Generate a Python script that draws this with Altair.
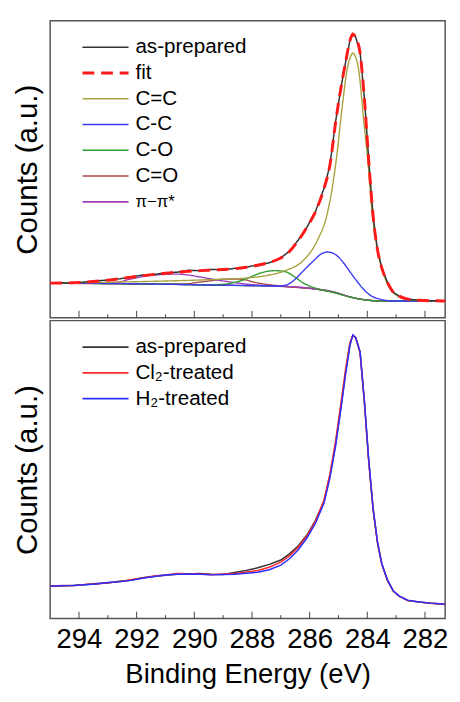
import altair as alt
import pandas as pd

FONT = "Liberation Sans"

# ---------------- data ----------------
E_RAW = [295.0, 294.6, 294.2, 293.8, 293.4, 293.0, 292.6, 292.2, 291.8, 291.4, 291.0,
         290.6, 290.2, 289.8, 289.4, 289.0, 288.6, 288.2, 287.8, 287.4, 287.0,
         286.7, 286.4, 286.1, 285.8, 285.5, 285.3, 285.1, 284.9, 284.75, 284.6,
         284.5, 284.4, 284.25, 284.1, 283.95, 283.8, 283.65, 283.5, 283.3, 283.1,
         282.9, 282.6, 282.2, 281.8, 281.4, 281.3]

TOP_ASPREP = [35.3, 35.6, 35.1, 36.4, 37.4, 38.6, 39.6, 41.6, 43.5, 44.0, 45.8,
              46.4, 48.4, 47.9, 49.3, 48.6, 50.4, 51.5, 53.9, 56.0, 60.8,
              68, 79, 92, 108, 132, 155, 200, 237, 261, 283,
              289.7, 286, 271, 224, 161, 104, 70, 51, 36, 26,
              22, 19, 17.8, 17.3, 17.1, 17.0]

TOP_FIT = [35.3, 35.4, 35.7, 36.3, 37.2, 38.3, 39.7, 41.3, 42.9, 44.2, 45.3,
           46.4, 47.3, 48.0, 48.6, 49.2, 50.0, 51.4, 53.5, 56.4, 60.8,
           67.5, 78.5, 92, 108, 132, 155, 199, 237, 261, 283,
           289.5, 285.5, 270, 223, 160, 104, 70, 51, 36, 26,
           22, 19, 17.8, 17.3, 17.1, 17.0]

BG_E = [295.0, 293.0, 291.6, 289.3, 287.1, 286.2, 285.7, 285.15, 284.58, 284.03, 283.45, 282.5, 281.3]
BG_V = [35.3, 35.0, 34.3, 33.3, 32.0, 30.5, 29.0, 26.0, 21.0, 18.0, 17.0, 17.0, 17.0]

CEQC_E = [295.0, 293.3, 291.6, 289.3, 288.2, 287.5, 286.85, 286.2, 285.73, 285.39, 285.15,
          285.04, 284.87, 284.7, 284.6, 284.5, 284.4, 284.3, 284.13, 283.96, 283.86,
          283.69, 283.45, 283.11, 282.67, 282.09, 281.3]
CEQC_V = [35.3, 36.0, 37.0, 39.0, 40.5, 43.0, 48.0, 59.0, 79.0, 106.0, 145.0,
          170.0, 215.0, 253.0, 265.0, 270.0, 265.5, 253.0, 203.0, 153.0, 116.0,
          76.0, 46.0, 26.0, 19.0, 17.5, 17.0]

CC_E = [295.0, 292.0, 289.3, 287.6, 287.1, 286.85, 286.51, 286.28, 285.83, 285.6, 285.39,
        285.2, 285.04, 284.8, 284.58, 284.3, 284.13, 283.85, 283.56, 283.11, 281.3]
CC_V = [35.3, 34.6, 33.3, 32.6, 32.3, 33.0, 39.0, 46.0, 59.0, 65.0, 67.0,
        66.0, 63.0, 55.0, 46.0, 35.0, 29.0, 22.0, 19.0, 17.0, 17.0]

CO_E = [295.0, 291.0, 289.5, 288.9, 288.65, 288.3, 287.97, 287.6, 287.2, 286.85, 286.51,
        286.28, 285.73, 285.15, 284.58, 284.03, 283.45, 281.3]
CO_V = [35.3, 34.2, 33.6, 34.3, 35.8, 38.5, 42.5, 46.5, 48.0, 47.0, 41.5,
        36.5, 29.5, 25.5, 21.0, 18.0, 17.0, 17.0]

CEQO_E = [295.0, 291.0, 290.3, 289.9, 289.3, 288.99, 288.55, 288.2, 287.97, 287.6, 287.29,
          286.51, 285.73, 285.15, 284.58, 284.03, 283.45, 281.3]
CEQO_V = [35.3, 34.3, 34.5, 36.0, 38.2, 39.3, 39.5, 38.5, 36.5, 34.5, 33.3,
          31.0, 29.0, 26.0, 21.0, 18.0, 17.0, 17.0]

PI_E = [295.0, 293.3, 292.72, 292.2, 291.6, 291.0, 290.6, 290.2, 289.9, 289.5, 289.1,
        288.6, 288.2, 287.6, 287.0, 286.51, 285.73, 285.15, 284.58, 284.03, 283.45, 281.3]
PI_V = [35.3, 35.5, 36.0, 39.5, 42.8, 44.2, 44.5, 43.5, 42.0, 40.0, 38.0,
        35.8, 34.3, 33.0, 32.0, 31.5, 29.0, 26.0, 21.0, 18.0, 17.0, 17.0]

BOT_ASPREP = [33.0, 33.5, 33.9, 34.5, 35.8, 36.3, 38.0, 39.2, 41.7, 43.0, 44.3,
              45.2, 45.4, 45.9, 45.2, 45.0, 47.0, 49.2, 51.8, 55.3, 59.8,
              66, 74, 85, 100, 120, 145, 178, 219, 252, 280,
              289, 286.5, 272, 221, 161, 112, 78, 56, 39, 28,
              23, 18.6, 16.9, 15.7, 14.9, 14.4]
BOT_CL2 = [33.3, 33.8, 33.4, 34.9, 35.4, 36.6, 37.7, 39.6, 41.4, 43.4, 44.6,
           45.9, 45.8, 45.6, 44.8, 45.5, 45.9, 47.6, 49.0, 52.4, 57.6,
           64, 72.5, 84, 99, 121, 147, 181, 223, 255, 282,
           289, 286, 271, 220, 160, 112, 78, 56, 39, 28,
           23, 18.5, 16.8, 15.6, 14.8, 14.4]
BOT_H2 = [33.1, 33.4, 33.7, 34.6, 35.2, 36.8, 37.5, 39.0, 41.2, 42.9, 44.4,
          45.3, 45.6, 45.2, 44.6, 45.1, 45.3, 46.2, 47.3, 49.8, 54.5,
          61, 70, 82, 97, 118, 143, 176, 217, 250, 279,
          289.5, 286.5, 272, 222, 162, 113, 79, 56.5, 39.5, 28.3,
          23.2, 18.7, 17.0, 15.8, 15.0, 14.5]

TOP_SERIES = ["as-prepared", "fit", "C=C", "C-C", "C-O", "C=O", "π−π*"]
TOP_COLORS = ["#333333", "#ff1a1a", "#a8a23c", "#3a3af0", "#2f9e2f", "#a84a4a", "#a040b8"]
TOP_DASHES = [[1, 0], [12, 7], [1, 0], [1, 0], [1, 0], [1, 0], [1, 0]]
BOT_SERIES = ["as-prepared", "Cl₂-treated", "H₂-treated"]
BOT_COLORS = ["#333333", "#ff2a2a", "#2e2eff"]

MAJOR_TICKS = [294, 292, 290, 288, 286, 284, 282]
MINOR_TICKS = [293, 291, 289, 287, 285, 283]

# ---------------- frames ----------------
def frame(E, V, name):
    return pd.DataFrame({"eV": E, "counts": V, "series": name})

df_bg = frame(BG_E, BG_V, "background")
df_comp = pd.concat([
    frame(CEQO_E, CEQO_V, "C=O"),
    frame(PI_E, PI_V, "π−π*"),
    frame(CO_E, CO_V, "C-O"),
    frame(CC_E, CC_V, "C-C"),
    frame(CEQC_E, CEQC_V, "C=C"),
])
df_raw = frame(E_RAW, TOP_ASPREP, "as-prepared")
df_fit = frame(E_RAW, TOP_FIT, "fit")
df_bot = pd.concat([
    frame(E_RAW, BOT_ASPREP, "as-prepared"),
    frame(E_RAW, BOT_CL2, "Cl₂-treated"),
    frame(E_RAW, BOT_H2, "H₂-treated"),
])
df_major = pd.DataFrame({"eV": MAJOR_TICKS})
df_minor = pd.DataFrame({"eV": MINOR_TICKS})
df_leg_top = pd.DataFrame({"series": TOP_SERIES, "idx": list(range(len(TOP_SERIES)))})
df_leg_bot = pd.DataFrame({"series": BOT_SERIES, "idx": list(range(len(BOT_SERIES)))})

W = 403
H_TOP = 303
H_BOT = 304

xs = alt.Scale(domain=[295, 281.3], nice=False, zero=False)

def y_enc(h):
    return alt.Y("counts:Q",
                 scale=alt.Scale(domain=[0, h], nice=False, zero=False),
                 axis=alt.Axis(title="Counts (a.u.)", labels=False, ticks=False,
                               domain=False, grid=False, titleFont=FONT,
                               titleFontSize=30, titleFontWeight="normal",
                               titleColor="black", titlePadding=8))

def legend_layers(df_leg, color, dash, n, step, width_cond):
    yoff = alt.YOffset("idx:Q", scale=alt.Scale(domain=[0, n - 1], range=[0, step * (n - 1)]))
    enc = dict(y=alt.value(27), yOffset=yoff)
    rules = alt.Chart(df_leg).mark_rule().encode(
        x=alt.value(33), x2=alt.value(80), color=color, strokeWidth=width_cond, **enc)
    if dash is not None:
        rules = rules.encode(strokeDash=dash)
    texts = alt.Chart(df_leg).mark_text(align="left", baseline="middle", font=FONT,
                                        color="black").encode(
        x=alt.value(87), text="series:N",
        size=alt.condition(alt.datum.series == "π−π*", alt.value(17), alt.value(21)),
        **enc)
    return rules, texts

# ---------------- top panel ----------------
x_top = alt.X("eV:Q", scale=xs, axis=None)
ytop = y_enc(H_TOP)
col_top = alt.Color("series:N", scale=alt.Scale(domain=TOP_SERIES, range=TOP_COLORS), legend=None)
dash_top = alt.StrokeDash("series:N", scale=alt.Scale(domain=TOP_SERIES, range=TOP_DASHES), legend=None)

bg_layer = alt.Chart(df_bg).mark_line(color="#333333", strokeWidth=1.4, interpolate="monotone").encode(
    x=x_top, y=ytop)
comp_layer = alt.Chart(df_comp).mark_line(strokeWidth=1.4, interpolate="monotone").encode(
    x=x_top, y=ytop, color=col_top, strokeDash=dash_top, detail="series:N")
raw_layer = alt.Chart(df_raw).mark_line(strokeWidth=1.5).encode(
    x=x_top, y=ytop, color=col_top, strokeDash=dash_top)
fit_layer = alt.Chart(df_fit).mark_line(strokeWidth=3, interpolate="monotone").encode(
    x=x_top, y=ytop, color=col_top, strokeDash=dash_top)
tmaj_top = alt.Chart(df_major).mark_rule(color="#444444", strokeWidth=1).encode(
    x=x_top, y=alt.value(H_TOP), y2=alt.value(H_TOP - 7))
tmin_top = alt.Chart(df_minor).mark_rule(color="#444444", strokeWidth=1).encode(
    x=x_top, y=alt.value(H_TOP), y2=alt.value(H_TOP - 3.5))
lr_top, lt_top = legend_layers(
    df_leg_top, col_top, dash_top, len(TOP_SERIES), 26.3,
    alt.condition(alt.datum.series == "fit", alt.value(3), alt.value(1.6)))

top = alt.layer(bg_layer, comp_layer, raw_layer, fit_layer, tmaj_top, tmin_top,
                lr_top, lt_top).properties(width=W, height=H_TOP)

# ---------------- bottom panel ----------------
x_bot = alt.X("eV:Q", scale=xs,
              axis=alt.Axis(title="Binding Energy (eV)", values=MAJOR_TICKS, format="d",
                            ticks=False, tickSize=0, domain=False, grid=False,
                            labelFont=FONT, labelFontSize=28, labelColor="black",
                            labelPadding=7, labelFlush=False, labelOverlap=False,
                            titleFont=FONT, titleFontSize=28, titleFontWeight="normal",
                            titleColor="black", titlePadding=8))
ybot = y_enc(H_BOT)
col_bot = alt.Color("series:N", scale=alt.Scale(domain=BOT_SERIES, range=BOT_COLORS), legend=None)

bot_lines = alt.Chart(df_bot).mark_line(strokeWidth=1.5).encode(
    x=x_bot, y=ybot, color=col_bot)
tmaj_bot = alt.Chart(df_major).mark_rule(color="#444444", strokeWidth=1).encode(
    x=x_bot, y=alt.value(H_BOT), y2=alt.value(H_BOT - 7))
tmin_bot = alt.Chart(df_minor).mark_rule(color="#444444", strokeWidth=1).encode(
    x=x_bot, y=alt.value(H_BOT), y2=alt.value(H_BOT - 3.5))
lr_bot, lt_bot = legend_layers(df_leg_bot, col_bot, None, len(BOT_SERIES), 32.5, alt.value(1.6))

bottom = alt.layer(bot_lines, tmaj_bot, tmin_bot, lr_bot, lt_bot).properties(width=W, height=H_BOT)

chart = alt.vconcat(top, bottom, spacing=0).resolve_scale(
    color="independent", strokeDash="independent"
).properties(
    padding={"left": 4, "top": 5, "right": 0, "bottom": 0}
).configure_view(stroke="#555555", strokeWidth=1.5)

chart.save("out.html", embed_options={"renderer": "svg", "actions": False})
